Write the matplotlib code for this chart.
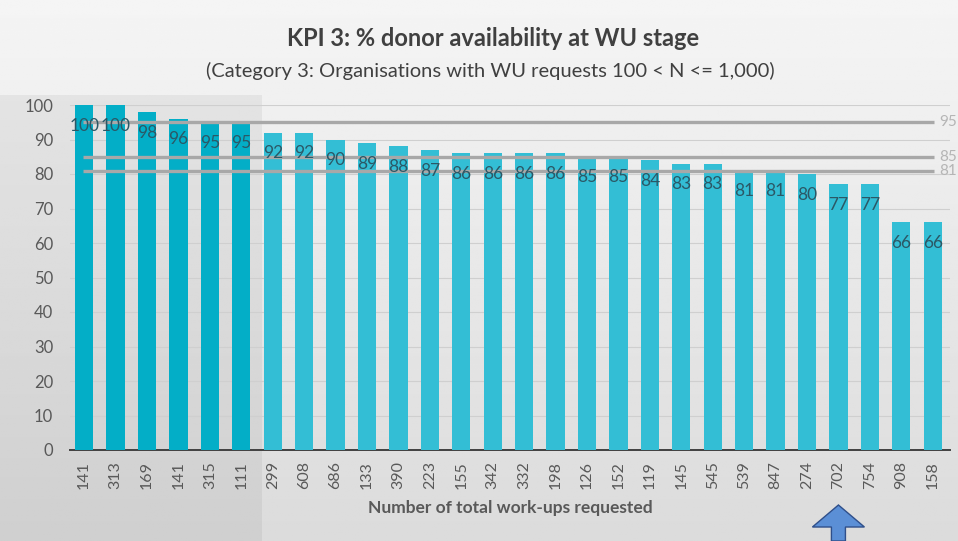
import numpy as np
import matplotlib.pyplot as plt
from matplotlib.patches import Rectangle, FancyArrow

plt.rcParams['font.family'] = ['Lato', 'DejaVu Sans']

# data
workups = ["141", "313", "169", "141", "315", "111", "299", "608", "686", "133",
           "390", "223", "155", "342", "332", "198", "126", "152", "119", "145",
           "545", "539", "847", "274", "702", "754", "908", "158"]
availability = [100, 100, 98, 96, 95, 95, 92, 92, 90, 89, 88, 87, 86, 86, 86,
                86, 85, 85, 84, 83, 83, 81, 81, 80, 77, 77, 66, 66]
ref_levels = [95, 85, 81]
ref_labels = ["95", "85", "81"]

W, H = 958, 541
fig = plt.figure(figsize=(W / 100, H / 100), dpi=100)

# screenshot-like grey gradient background
grad = np.linspace(0.96, 0.86, 200)[:, None] * np.ones((1, 10))
bg = fig.add_axes([0, 0, 1, 1], zorder=-10)
bg.imshow(grad, cmap="gray", vmin=0, vmax=1, aspect="auto", extent=[0, 1, 0, 1])
bg.add_patch(Rectangle((0, 0), 262 / W, 1 - 95 / H, color="#000000", alpha=0.05, lw=0))
bg.axis("off")

ax = fig.add_axes([70 / W, 91 / H, 880 / W, 345 / H])
ax.patch.set_alpha(0)

n = len(availability)
x = np.arange(n)
colors = ["#03AEC7" if i < 6 else "#33BED5" for i in x]
bars = ax.bar(x, availability, width=0.58, color=colors, zorder=3)

for b, v in zip(bars, availability):
    ax.text(b.get_x() + b.get_width() / 2, v - 6, str(v), ha="center", va="center",
            fontsize=12.5, color="#2b5866", zorder=5)

for lvl, lab in zip(ref_levels, ref_labels):
    ax.plot([-0.05, n - 0.95], [lvl, lvl], color="#a8a8a8", lw=2.4, zorder=4,
            solid_capstyle="butt")
    ax.text(n - 0.8, lvl, lab, va="center", ha="left", fontsize=11,
            color="#b5b5b5", clip_on=False)

ax.set_xlim(-0.45, n - 0.45)
ax.set_ylim(0, 100)
ax.set_yticks(range(0, 101, 10))
ax.yaxis.grid(True, color="#cfcfcf", lw=0.8, zorder=0)
ax.set_xticks(x)
ax.set_xticklabels(workups, rotation=90, fontsize=11.5, color="#595959")
ax.tick_params(axis="y", labelsize=12, labelcolor="#595959", length=0, pad=12)
ax.tick_params(axis="x", length=0, pad=8)
for s in ["top", "right", "left"]:
    ax.spines[s].set_visible(False)
ax.spines["bottom"].set_color("#404040")
ax.spines["bottom"].set_linewidth(1.4)

ax.set_xlabel("Number of total work-ups requested", fontsize=12.5, fontweight="bold",
              color="#595959", labelpad=8)

fig.text(493 / W, 1 - 38 / H, "KPI 3: % donor availability at WU stage", ha="center",
         va="center", fontsize=17, fontweight="bold", color="#404040")
fig.text(490 / W, 1 - 71 / H, "(Category 3: Organisations with WU requests 100 < N <= 1,000)",
         ha="center", va="center", fontsize=14.5, color="#404040")

# blue arrow pointing at the 702 bar
bx = (70 + (24 + 0.45) / n * 880) / W
fig.add_artist(FancyArrow(bx, 0.0, 0, 36 / H, width=14 / W, head_width=52 / W,
                          head_length=22 / H, length_includes_head=True,
                          transform=fig.transFigure, color="#5b8fd6", ec="#2f4f8a", lw=1))

fig.savefig("out.png", dpi=100)
